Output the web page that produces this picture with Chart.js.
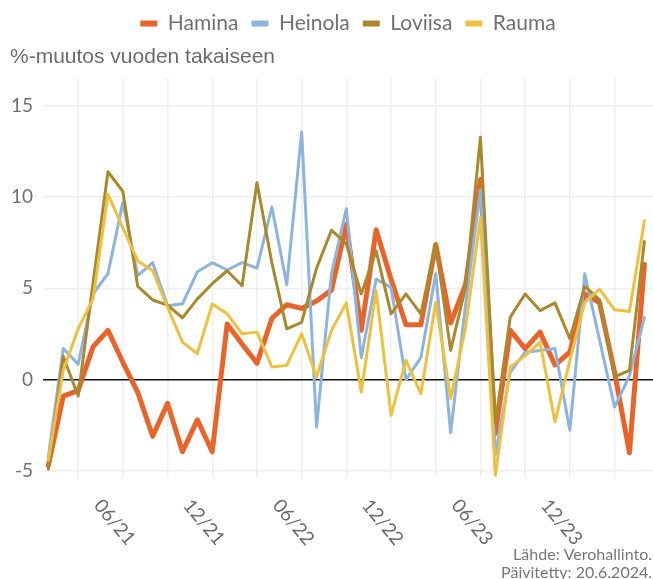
<!DOCTYPE html>
<html>
<head>
<meta charset="utf-8">
<script src="https://cdn.jsdelivr.net/npm/chart.js@4.4.1/dist/chart.umd.min.js"></script>
<style>
  html, body { margin: 0; padding: 0; background: #fff; }
  #wrap { width: 653px; height: 579px; }
</style>
</head>
<body>
<div id="wrap"><canvas id="chart"></canvas></div>
<script>
// kuukaudet 01/21 - 05/24
const months = ['01/21','02/21','03/21','04/21','05/21','06/21','07/21','08/21','09/21','10/21','11/21','12/21',
                '01/22','02/22','03/22','04/22','05/22','06/22','07/22','08/22','09/22','10/22','11/22','12/22',
                '01/23','02/23','03/23','04/23','05/23','06/23','07/23','08/23','09/23','10/23','11/23','12/23',
                '01/24','02/24','03/24','04/24','05/24'];

const hamina  = [-4.7, -0.9, -0.6, 1.8, 2.7, 0.95, -0.7, -3.1, -1.3, -3.95, -2.2, -3.95,
                 3.05, 1.95, 0.9, 3.35, 4.1, 3.9, 4.3, 4.9, 8.5, 2.7, 8.2, 5.5,
                 3.0, 3.0, 7.4, 3.1, 5.2, 10.95, -2.95, 2.7, 1.7, 2.6, 0.8, 1.5,
                 4.7, 4.2, 0.4, -4.0, 6.3];
const heinola = [-4.2, 1.7, 0.85, 4.7, 5.8, 9.7, 5.7, 6.4, 4.05, 4.15, 5.9, 6.4,
                 6.0, 6.4, 6.1, 9.45, 5.2, 13.56, -2.6, 5.8, 9.35, 1.2, 5.5, 5.05,
                 0.0, 1.2, 5.8, -2.9, 4.1, 10.4, -4.1, 0.4, 1.5, 1.6, 1.7, -2.77,
                 5.8, 2.15, -1.5, 0.2, 3.4];
const loviisa = [-4.9, 1.27, -0.9, 5.3, 11.38, 10.3, 5.1, 4.36, 4.08, 3.38, 4.42, 5.25,
                 5.96, 5.14, 10.78, 6.4, 2.78, 3.14, 6.1, 8.18, 7.43, 4.69, 7.05, 3.6,
                 4.69, 3.6, 7.42, 1.6, 5.05, 13.27, -2.4, 3.42, 4.69, 3.78, 4.2, 2.24,
                 5.1, 4.36, 0.15, 0.51, 7.56];
const rauma   = [-4.4, 0.5, 2.78, 4.42, 10.15, 8.3, 6.5, 5.96, 3.96, 2.05, 1.42, 4.14,
                 3.6, 2.51, 2.6, 0.69, 0.78, 2.51, 0.14, 2.69, 4.2, -0.68, 4.87, -1.95,
                 1.05, -0.77, 4.23, -1.04, 2.85, 8.87, -5.23, 0.7, 1.3, 2.05, -2.31, 1.05,
                 4.23, 4.96, 3.82, 3.73, 8.69];

const tickLabels = ['06/21', '12/21', '06/22', '12/22', '06/23', '12/23'];
const gridMonths = ['03/21','06/21','09/21','12/21','03/22','06/22','09/22','12/22',
                    '03/23','06/23','09/23','12/23','03/24'];
const yTicks = [-5, 0, 5, 10, 15];

const toPoints = arr => arr.map((v, i) => ({ x: i, y: v }));

function series(label, data, color, width, order) {
  return {
    label: label,
    data: toPoints(data),
    borderColor: color,
    backgroundColor: color,
    borderWidth: width,
    pointRadius: 0,
    tension: 0,
    borderJoinStyle: 'round',
    borderCapStyle: 'round',
    order: order
  };
}

// x-akselin kierretyt tekstit ja lähdetiedot
const extraText = {
  id: 'extraText',
  afterDraw(chart) {
    const ctx = chart.ctx;
    const x = chart.scales.x;
    ctx.save();
    ctx.fillStyle = '#6b6b6b';
    ctx.font = '19px Lato';
    ctx.textAlign = 'left';
    ctx.textBaseline = 'top';
    tickLabels.forEach(l => {
      const px = x.getPixelForValue(months.indexOf(l));
      ctx.save();
      ctx.translate(px - 18, x.top + 19);
      ctx.rotate(50 * Math.PI / 180);
      ctx.fillText(l, 0, 0);
      ctx.restore();
    });
    ctx.textAlign = 'right';
    ctx.textBaseline = 'alphabetic';
    ctx.font = '16px Lato';
    ctx.fillStyle = '#777';
    ctx.fillText('Lähde: Verohallinto.', 652, 560);
    ctx.fillText('Päivitetty: 20.6.2024.', 652, 578);
    ctx.restore();
  }
};

const ctx = document.getElementById('chart').getContext('2d');

new Chart(ctx, {
  type: 'line',
  data: {
    datasets: [
      series('Hamina', hamina, '#e8642a', 5, 4),
      series('Heinola', heinola, '#8db4dd', 3, 3),
      series('Loviisa', loviisa, '#a8892e', 3, 2),
      series('Rauma', rauma, '#edc13f', 3, 1)
    ]
  },
  options: {
    responsive: true,
    maintainAspectRatio: false,
    animation: false,
    layout: { padding: { left: 10, top: 0, right: 0, bottom: 0 } },
    scales: {
      x: {
        type: 'linear',
        min: -0.36,
        max: 40.58,
        afterBuildTicks: s => { s.ticks = gridMonths.map(m => ({ value: months.indexOf(m) })); },
        afterFit: s => { s.height = 102; },
        ticks: { display: false },
        border: { display: false },
        grid: { color: '#efefef', lineWidth: 1.5, drawTicks: false }
      },
      y: {
        min: -5.33,
        max: 16.5,
        afterBuildTicks: s => { s.ticks = yTicks.map(v => ({ value: v })); },
        afterFit: s => { s.width = 33; },
        border: { display: false },
        grid: {
          drawTicks: false,
          color: c => (c.tick && c.tick.value === 0) ? '#111' : '#efefef',
          lineWidth: 1.5
        },
        ticks: {
          padding: 10,
          color: '#707070',
          font: { family: 'Lato', size: 19 }
        }
      }
    },
    plugins: {
      legend: {
        position: 'top',
        fullSize: false,
        labels: {
          color: '#707070',
          font: { family: 'Lato', size: 21 },
          boxWidth: 17,
          boxHeight: 6,
          padding: 13,
          sort: (a, b) => a.datasetIndex - b.datasetIndex,
          generateLabels: chart => Chart.defaults.plugins.legend.labels.generateLabels(chart)
            .map(l => Object.assign(l, { lineWidth: 0 }))
        }
      },
      title: {
        display: true,
        text: '%-muutos vuoden takaiseen',
        align: 'start',
        weight: 500,
        color: '#6b6b6b',
        font: { family: 'Liberation Sans', size: 21, weight: 'normal' },
        padding: { top: 1, bottom: 8 }
      },
      tooltip: { enabled: false }
    }
  },
  plugins: [extraText]
});
</script>
</body>
</html>
